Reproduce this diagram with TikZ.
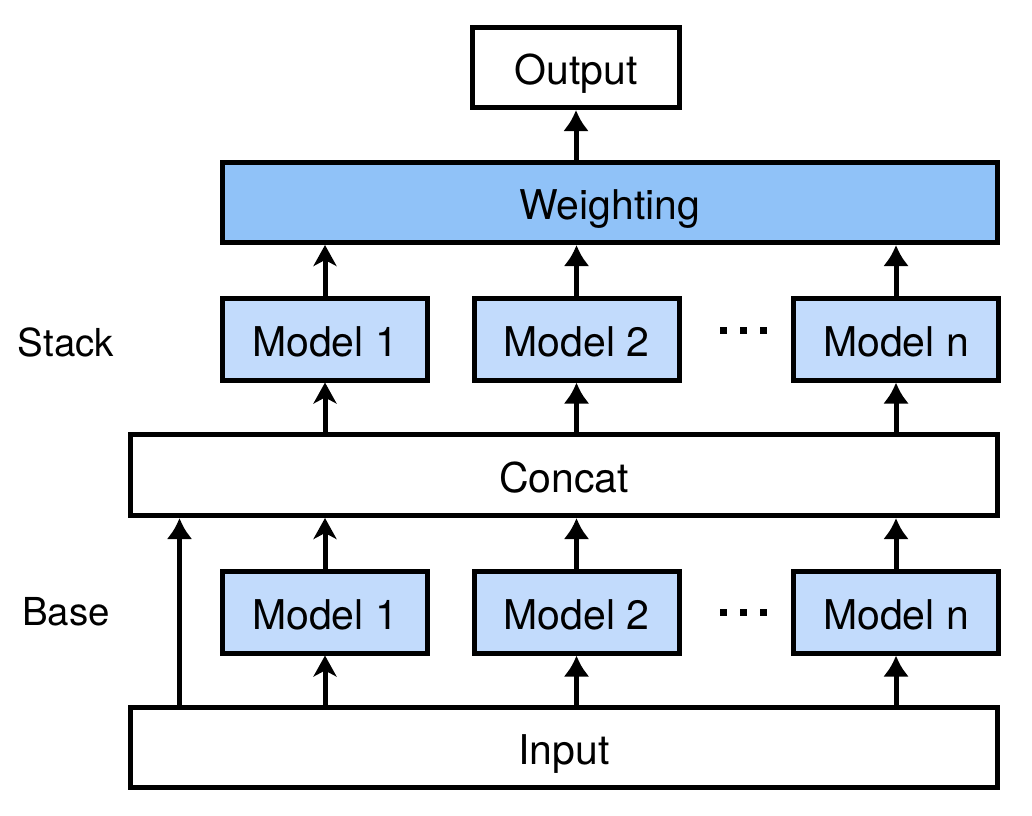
\documentclass[tikz,border=0pt]{standalone}
\usepackage{fontspec}
\setmainfont{TeX Gyre Heros}
\usetikzlibrary{arrows.meta,calc}
\definecolor{weightblue}{HTML}{90C2F8}
\definecolor{modelblue}{HTML}{C2DBFC}
\begin{document}
\begin{tikzpicture}[x=1pt,y=-1pt,
  box/.style={draw=black, line width=5pt, rectangle, inner sep=0pt,
    text height=38pt, text depth=4pt,
    font=\fontsize{41}{48}\selectfont},
  modelbox/.style={box, fill=modelblue, minimum width=205pt, minimum height=82pt},
  widebox/.style={box, fill=white, minimum width=867pt, minimum height=81pt},
  arr/.style={line width=5pt, -{Latex[length=21pt,width=26pt]}},
  barb/.style={line width=5pt, -{Stealth[length=21pt,width=23pt,inset=6pt]}},
  side/.style={font=\fontsize{38.5}{46}\selectfont},
  dotmark/.style={fill=black, minimum size=7pt, inner sep=0pt, rectangle}]
\useasboundingbox (0,0) rectangle (1032,815);

% top of the stack
\node[box, fill=white, minimum width=207pt, minimum height=80pt] (out) at (576,67.5) {Output};
\node[box, fill=weightblue, minimum width=775pt, minimum height=80pt] (weight) at (610,202.5) {Weighting};

% stacking models
\node[modelbox] (s1) at (325,339) {Model 1};
\node[modelbox] (s2) at (576.5,339) {Model 2};
\node[modelbox] (sn) at (896,339) {Model n};

\node[widebox] (concat) at (564,475) {Concat};

% base models
\node[modelbox] (b1) at (325,612) {Model 1};
\node[modelbox] (b2) at (576.5,612) {Model 2};
\node[modelbox] (bn) at (896,612) {Model n};

\node[widebox, minimum height=80pt] (input) at (564,747.5) {Input};

% row labels
\node[side] (stacklbl) at (66,342) {Stack};
\node[side] (baselbl) at (66,612) {Base};

% ellipsis marks
\foreach \r/\y in {s/330, b/612}{
  \node[dotmark] (\r d1) at (723,\y) {};
  \node[dotmark] (\r d2) at (743,\y) {};
  \node[dotmark] (\r d3) at (763,\y) {};
}

% connectors
\draw[barb] (b1.south |- input.north) -- (b1.south);
\draw[arr] (b2.south |- input.north) -- (b2.south);
\draw[arr] (bn.south |- input.north) -- (bn.south);

\draw[barb] (b1.north) -- (b1.north |- concat.south);
\draw[arr] (b2.north) -- (b2.north |- concat.south);
\draw[arr] (bn.north) -- (bn.north |- concat.south);

\coordinate (skip) at ($(input.north west)+(51.5,0)$);
\draw[arr] (skip) -- (skip |- concat.south);

\draw[barb] (s1.south |- concat.north) -- (s1.south);
\draw[arr] (s2.south |- concat.north) -- (s2.south);
\draw[arr] (sn.south |- concat.north) -- (sn.south);

\draw[barb] (s1.north) -- (s1.north |- weight.south);
\draw[arr] (s2.north) -- (s2.north |- weight.south);
\draw[arr] (sn.north) -- (sn.north |- weight.south);

\draw[arr] (out.south |- weight.north) -- (out.south);
\end{tikzpicture}
\end{document}
